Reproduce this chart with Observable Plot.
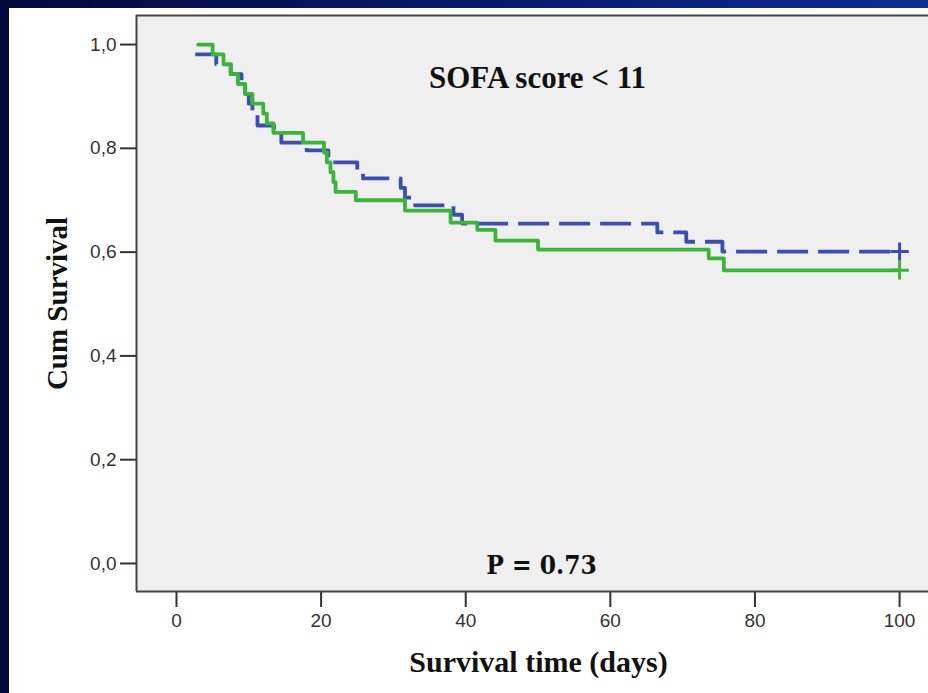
<!DOCTYPE html>
<html>
<head>
<meta charset="utf-8">
<script src="https://cdn.jsdelivr.net/npm/d3@7"></script>
<script src="https://cdn.jsdelivr.net/npm/@observablehq/plot@0.6"></script>
<style>
  html, body { margin: 0; padding: 0; }
  #wrap {
    width: 928px; height: 693px; box-sizing: border-box;
    padding: 8px 0 0 9px;
    background: linear-gradient(to right, #020a3c 0%, #06186a 50%, #102c8c 100%);
    overflow: hidden;
  }
  #chart { width: 919px; height: 685px; background: white; }
  .ptext text { font-stretch: condensed; }
</style>
</head>
<body>
<div id="wrap"><div id="chart"></div></div>
<script>
// Kaplan-Meier curves (time in days, cumulative survival)
const blueTime = [2.6, 5.5, 7.5, 9, 9.5, 10, 10.5, 11.2, 13.5, 14.5, 18, 21, 25, 25.8, 31, 31.6, 33, 38.3, 39.5, 66.5, 70.5, 75.5, 100];
const blueSurv = [0.981, 0.962, 0.943, 0.924, 0.905, 0.886, 0.867, 0.844, 0.827, 0.811, 0.796, 0.773, 0.758, 0.742, 0.724, 0.705, 0.69, 0.672, 0.655, 0.638, 0.62, 0.601, 0.601];
const greenTime = [3, 5, 6.5, 7.5, 8.5, 9.5, 10.5, 12, 12.5, 13.4, 17.5, 20.4, 20.8, 21.3, 21.7, 22, 24.8, 31.6, 37.9, 41.6, 44.1, 50, 73.6, 75.7, 100];
const greenSurv = [1.0, 0.981, 0.962, 0.943, 0.924, 0.905, 0.886, 0.867, 0.848, 0.83, 0.811, 0.792, 0.773, 0.754, 0.735, 0.716, 0.70, 0.68, 0.657, 0.643, 0.622, 0.605, 0.588, 0.565, 0.565];
const censorTime = [100];

const xTicks = [0, 20, 40, 60, 80, 100];
const yTicks = [0, 0.2, 0.4, 0.6, 0.8, 1.0];

const titleText = "SOFA score < 11";
const pText = "P = 0.73";
const xLabel = "Survival time (days)";
const yLabel = "Cum Survival";

const blueColor = "#3c4fae";
const greenColor = "#3cb43c";

const blue = blueTime.map((t, i) => ({t, s: blueSurv[i]}));
const green = greenTime.map((t, i) => ({t, s: greenSurv[i]}));
const blueCens = censorTime.map(t => ({t, s: blueSurv[blueSurv.length - 1]}));
const greenCens = censorTime.map(t => ({t, s: greenSurv[greenSurv.length - 1]}));

const xDomain = [-5.53, 104.0];
const yDomain = [-0.054, 1.056];

const serif = "'Liberation Serif', 'Times New Roman', serif";

const chart = Plot.plot({
  width: 919,
  height: 685,
  marginLeft: 127,
  marginRight: 0,
  marginTop: 7,
  marginBottom: 102,
  style: {background: "white", fontFamily: "'Liberation Sans', Arial, sans-serif", color: "#333"},
  x: {domain: xDomain, axis: null},
  y: {domain: yDomain, axis: null},
  marks: [
    Plot.frame({fill: "#efefef", stroke: null}),
    Plot.axisX({ticks: xTicks, tickSize: 16, tickPadding: 6, fontSize: 19, strokeWidth: 2, stroke: "#333", fill: "#333", label: null}),
    Plot.axisY({ticks: yTicks, tickSize: 16, tickPadding: 4, fontSize: 19, strokeWidth: 2, stroke: "#333", fill: "#333", label: null,
      tickFormat: d => d.toFixed(1).replace(".", ",")}),
    Plot.ruleX([xDomain[0]], {stroke: "#444", strokeWidth: 2}),
    Plot.ruleY([yDomain[0], yDomain[1]], {stroke: "#444", strokeWidth: 2}),
    Plot.line(blue, {x: "t", y: "s", curve: "step-after", stroke: blueColor, strokeWidth: 3.8, strokeDasharray: "31,10", strokeLinecap: "butt"}),
    Plot.line(green, {x: "t", y: "s", curve: "step-after", stroke: greenColor, strokeWidth: 3.8}),
    Plot.dot(blueCens, {x: "t", y: "s", symbol: "plus", r: 6, stroke: blueColor, strokeWidth: 3}),
    Plot.dot(greenCens, {x: "t", y: "s", symbol: "plus", r: 6, stroke: greenColor, strokeWidth: 3}),
    Plot.text([titleText], {frameAnchor: "top", dx: 5, dy: 50, text: d => d, fontSize: 31, fontWeight: "bold", fontFamily: serif, fill: "#111"}),
    Plot.text([pText], {frameAnchor: "bottom", dx: 9, dy: -18, text: d => d, fontSize: 26, fontWeight: "bold", fontFamily: "'DejaVu Serif', serif", fill: "#111", className: "ptext"}),
    Plot.text([xLabel], {frameAnchor: "bottom", dx: 6, dy: 80, text: d => d, fontSize: 30, fontWeight: "bold", fontFamily: serif, fill: "#111"}),
    Plot.text([yLabel], {frameAnchor: "left", textAnchor: "middle", dx: -79, dy: 0, rotate: -90, text: d => d, fontSize: 29, fontWeight: "bold", fontFamily: serif, fill: "#111"})
  ]
});
document.getElementById("chart").appendChild(chart);
</script>
</body>
</html>
